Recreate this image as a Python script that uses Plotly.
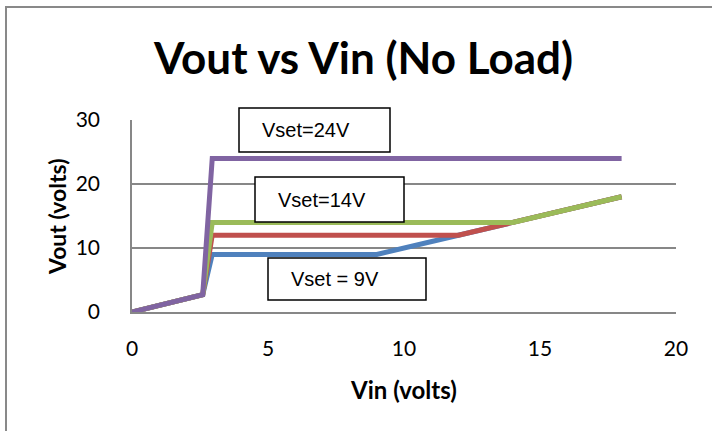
import plotly.graph_objects as go

# ---- data ----
vin = [0, 2.6, 2.95, 9, 12, 14, 18]
vout_9 = [0, 2.7, 9, 9, 12, 14, 18]
vout_12 = [0, 2.7, 12, 12, 12, 14, 18]
vout_14 = [0, 2.7, 14, 14, 14, 14, 18]
vout_24 = [0, 2.7, 24, 24, 24, 24, 24]
series_names = ["Vset=9V", "Vset=12V", "Vset=14V", "Vset=24V"]
series_colors = ["#4F81BD", "#C0504D", "#9BBB59", "#8064A2"]
x_ticks = [0, 5, 10, 15, 20]
y_ticks = [0, 10, 20, 30]

W, H = 712, 431
L, R, T, B = 132, 676, 120, 312  # plot area in px
PW, PH = R - L, B - T

def px(x):
    return (x - L) / PW

def py(y):
    return (B - y) / PH

fig = go.Figure()
for name, ys, c in zip(series_names, [vout_9, vout_12, vout_14, vout_24], series_colors):
    fig.add_trace(go.Scatter(x=vin, y=ys, mode="lines", name=name,
                             line=dict(color=c, width=5), showlegend=False))

grid = "#878787"
fig.update_layout(
    width=W, height=H,
    margin=dict(l=L, r=W - R, t=T, b=H - B, pad=0),
    paper_bgcolor="white", plot_bgcolor="white",
    xaxis=dict(range=[0, 20], tickvals=x_ticks, showgrid=False, zeroline=False,
               showline=True, linecolor=grid, linewidth=1.5, ticks="",
               ticklabelstandoff=17,
               tickfont=dict(family="Lato", size=21, color="black")),
    yaxis=dict(range=[0, 30], tickvals=y_ticks, showgrid=True, gridcolor=grid, gridwidth=1.5,
               zeroline=False, showline=True, linecolor=grid, linewidth=1.5, ticks="",
               ticklabelstandoff=26,
               tickfont=dict(family="Lato", size=21, color="black")),
)

# chart area border
fig.add_shape(type="rect", xref="paper", yref="paper",
              x0=px(6), x1=px(790), y0=py(500), y1=py(7),
              line=dict(color="#898989", width=2), fillcolor="rgba(0,0,0,0)", layer="below")

# titles
fig.add_annotation(text="<b>Vout vs Vin (No Load)</b>", xref="paper", yref="paper",
                   x=px(362.5), y=py(57), xanchor="center", yanchor="middle", showarrow=False,
                   font=dict(family="Lato", size=44, color="black"))
fig.add_annotation(text="<b>Vin (volts)</b>", xref="paper", yref="paper",
                   x=px(403.5), y=py(389), xanchor="center", yanchor="middle", showarrow=False,
                   font=dict(family="Lato", size=24, color="black"))
fig.add_annotation(text="<b>Vout (volts)</b>", xref="paper", yref="paper",
                   x=px(57), y=py(217), xanchor="center", yanchor="middle", showarrow=False,
                   textangle=-90, font=dict(family="Lato", size=23, color="black"))

# labelled boxes
boxes = [("Vset=24V", 239, 390, 108, 152),
         ("Vset=14V", 255, 404, 177, 222),
         ("Vset = 9V", 268, 426, 258, 300)]
for txt, x0, x1, y0, y1 in boxes:
    fig.add_shape(type="rect", xref="paper", yref="paper",
                  x0=px(x0), x1=px(x1), y0=py(y1), y1=py(y0),
                  line=dict(color="black", width=1.5), fillcolor="white", layer="above")
    fig.add_annotation(text=txt, xref="paper", yref="paper",
                       x=px(x0 + 21), y=py((y0 + y1) / 2), xanchor="left", yanchor="middle",
                       showarrow=False,
                       font=dict(family="Liberation Sans", size=20, color="black"))

fig.write_html("out.html", config={"displayModeBar": False},
               post_script="document.body.style.margin='0';document.body.style.overflow='hidden';")
